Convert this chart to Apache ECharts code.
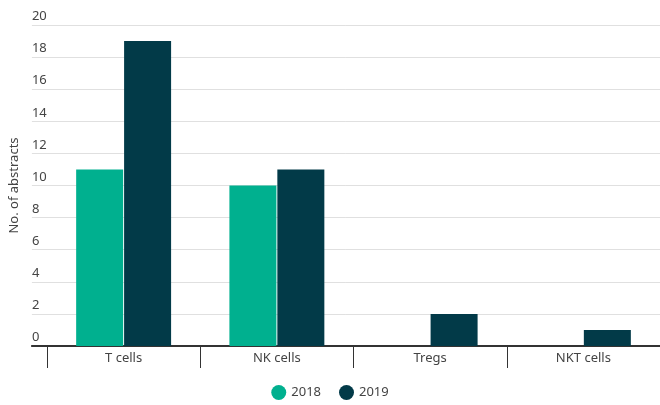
<!DOCTYPE html>
<html>
<head>
<meta charset="utf-8">
<script src="https://cdn.jsdelivr.net/npm/echarts@6/dist/echarts.min.js"></script>
<style>
  html, body { margin: 0; padding: 0; background: #fff; }
  #chart { width: 660px; height: 405px; }
</style>
</head>
<body>
<div id="chart"></div>
<script>
// data
var cells = ['T cells', 'NK cells', 'Tregs', 'NKT cells'];
var y2018 = [11, 10, 0, 0];
var y2019 = [19, 11, 2, 1];
var yTicks = { min: 0, max: 20, interval: 2 };

var txt = '#444';
var font = 'Noto Sans';

var myChart = echarts.init(document.getElementById('chart'));

var option = {
    animation: false,
    textStyle: { fontFamily: font },
    legend: {
        bottom: 0,
        left: 'center',
        icon: 'circle',
        itemWidth: 15,
        itemHeight: 15,
        itemGap: 18,
        textStyle: { color: txt, fontSize: 13, fontFamily: font },
        data: ['2018', '2019']
    },
    // grid 0: gridlines + long axis line, grid 1: bars and categories
    grid: [
        { left: 29, right: 0, top: 25, bottom: 59 },
        { left: 47, right: 0, top: 25, bottom: 59 }
    ],
    xAxis: [
        {
            gridIndex: 0,
            type: 'value',
            min: 0, max: 1,
            axisLine: { show: true, onZero: false, lineStyle: { color: '#333', width: 2 } },
            axisTick: { show: false },
            axisLabel: { show: false },
            splitLine: { show: false }
        },
        {
            gridIndex: 1,
            type: 'category',
            data: cells,
            axisLine: { show: false },
            axisTick: { show: true, length: 22, lineStyle: { color: '#333', width: 1 } },
            axisLabel: { color: txt, fontSize: 13, margin: 6, fontFamily: font }
        }
    ],
    yAxis: [
        {
            gridIndex: 0,
            type: 'value',
            min: yTicks.min, max: yTicks.max, interval: yTicks.interval,
            name: 'No. of abstracts',
            nameLocation: 'middle',
            nameGap: 10,
            nameTextStyle: { color: txt, fontSize: 13, fontFamily: font },
            axisLine: { show: false },
            axisTick: { show: false },
            axisLabel: {
                inside: true,
                margin: 0,
                align: 'left',
                verticalAlign: 'bottom',
                padding: [0, 0, 2, 0],
                color: txt,
                fontSize: 13,
                fontFamily: font
            },
            splitLine: { lineStyle: { color: '#e0e0e0', width: 1 } }
        },
        {
            gridIndex: 1,
            type: 'value',
            min: yTicks.min, max: yTicks.max, interval: yTicks.interval,
            show: false,
            splitLine: { show: false }
        }
    ],
    series: [
        {
            name: '2018',
            type: 'bar',
            xAxisIndex: 1,
            yAxisIndex: 1,
            data: y2018,
            barWidth: 47,
            barGap: '2%',
            itemStyle: { color: '#00b08f' }
        },
        {
            name: '2019',
            type: 'bar',
            xAxisIndex: 1,
            yAxisIndex: 1,
            data: y2019,
            barWidth: 47,
            itemStyle: { color: '#023a48' }
        }
    ]
};

myChart.setOption(option);
</script>
</body>
</html>
